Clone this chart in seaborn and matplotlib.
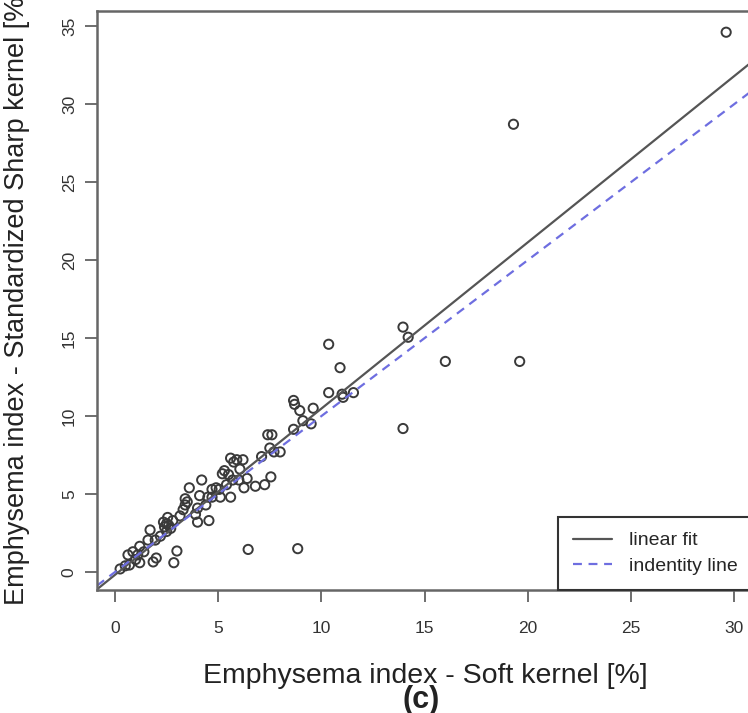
import matplotlib
matplotlib.use("Agg")
import matplotlib.pyplot as plt
import seaborn as sns
import pandas as pd
from matplotlib.lines import Line2D

# emphysema index per scan, soft kernel vs standardized sharp kernel [%]
soft_kernel = [
    29.6, 19.3, 19.6, 16.0, 13.95, 14.2, 13.95, 10.35, 10.9, 10.35,
    11.0, 11.05, 11.55, 9.6, 8.65, 8.7, 8.95, 9.1, 9.5, 8.65,
    8.85, 6.45, 7.4, 7.6, 7.7, 7.55, 7.1, 6.8, 7.25, 6.2,
    6.05, 5.6, 5.75, 5.9, 5.3, 5.5, 5.7, 5.4, 6.0, 6.25,
    5.6, 5.2, 4.9, 4.7, 5.05, 4.2, 4.5, 4.1, 3.6, 4.0,
    4.0, 4.55, 3.4, 3.4, 3.3, 3.15, 2.8, 2.5, 2.6, 2.4,
    2.7, 2.55, 2.35, 2.5, 3.0, 2.85, 1.95, 2.0, 1.85, 1.7,
    1.6, 1.2, 0.87, 0.63, 1.1, 1.2, 0.5, 0.25, 0.7, 1.0,
    2.2, 1.4, 8.0, 6.4, 7.5, 5.1, 4.7, 3.5, 3.9, 4.4,
]
sharp_kernel = [
    34.6, 28.7, 13.5, 13.5, 15.7, 15.05, 9.2, 14.6, 13.1, 11.5,
    11.4, 11.2, 11.5, 10.5, 11.0, 10.75, 10.35, 9.7, 9.5, 9.15,
    1.5, 1.45, 8.8, 8.8, 7.7, 6.1, 7.4, 5.5, 5.6, 7.2,
    6.6, 7.3, 7.05, 7.2, 6.5, 6.25, 5.9, 5.6, 5.9, 5.4,
    4.8, 6.3, 5.4, 5.3, 5.3, 5.9, 4.8, 4.9, 5.4, 4.1,
    3.2, 3.3, 4.3, 4.7, 4.0, 3.6, 3.3, 3.1, 3.0, 2.9,
    2.8, 3.5, 3.2, 2.6, 1.35, 0.6, 2.05, 0.9, 0.65, 2.7,
    2.05, 1.65, 1.3, 1.1, 1.1, 0.6, 0.4, 0.2, 0.45, 0.8,
    2.3, 1.3, 7.7, 6.0, 7.95, 4.8, 4.8, 4.5, 3.7, 4.3,
]

x_ticks = [0, 5, 10, 15, 20, 25, 30]
y_ticks = [0, 5, 10, 15, 20, 25, 30, 35]

# regression line
fit_slope = 1.066
fit_intercept = -0.18

legend_labels = ["linear fit", "indentity line"]

sns.set_style("ticks")
plt.rcParams["font.family"] = ["Liberation Sans", "DejaVu Sans"]

fig = plt.figure(figsize=(7.48, 7.13), dpi=100)
ax = fig.add_axes([97 / 748, 123 / 713, 656 / 748, 579 / 713])

df = pd.DataFrame({"soft": soft_kernel, "sharp": sharp_kernel})
sns.scatterplot(data=df, x="soft", y="sharp", ax=ax, marker="o", s=44,
                facecolors="none", edgecolor="#3a3a3a", linewidth=1.4)

fit_color = "#555555"
id_color = "#6e6ee0"
ax.axline((0, fit_intercept), slope=fit_slope, color=fit_color, lw=1.6)
ax.axline((0, 0), slope=1, color=id_color, lw=1.6, ls=(0, (4, 3)))

ax.set_xlim(-0.87, 30.9)
ax.set_ylim(-1.15, 35.96)
ax.set_xticks(x_ticks)
ax.set_yticks(y_ticks)
ax.set_xlabel("")
ax.set_ylabel("")
ax.tick_params(direction="out", length=8.5, width=1.2, color="#555555",
               labelsize=12.5, labelcolor="#333333")
ax.tick_params(axis="x", pad=14)
ax.tick_params(axis="y", pad=6)
for lbl in ax.get_yticklabels():
    lbl.set_rotation(90)
    lbl.set_va("center")
for sp in ax.spines.values():
    sp.set_visible(True)
    sp.set_color("#666666")
    sp.set_linewidth(1.8)

handles = [Line2D([], [], color=fit_color, lw=1.6),
           Line2D([], [], color=id_color, lw=1.6, ls=(0, (4, 3)))]
leg = ax.legend(handles, legend_labels, loc="lower right", bbox_to_anchor=(1, 0),
                borderaxespad=0, fancybox=False, edgecolor="#333333",
                fontsize=14, handlelength=2.0, handletextpad=0.9,
                borderpad=0.78, labelspacing=0.4, framealpha=1)
leg.get_frame().set_linewidth(1.5)

fig.text(425 / 748, 1 - 683 / 713, "Emphysema index - Soft kernel [%]",
         ha="center", va="baseline", fontsize=20.5, color="#222222")
fig.text(17 / 748, 1 - 297 / 713, "Emphysema index - Standardized Sharp kernel [%]",
         ha="center", va="center", rotation=90, fontsize=19.5, color="#222222")
fig.text(421 / 748, 1 - 708 / 713, "(c)", ha="center", va="baseline",
         fontsize=22, fontweight="bold", color="#222222")

fig.savefig("out.png", dpi=100)
plt.close(fig)
